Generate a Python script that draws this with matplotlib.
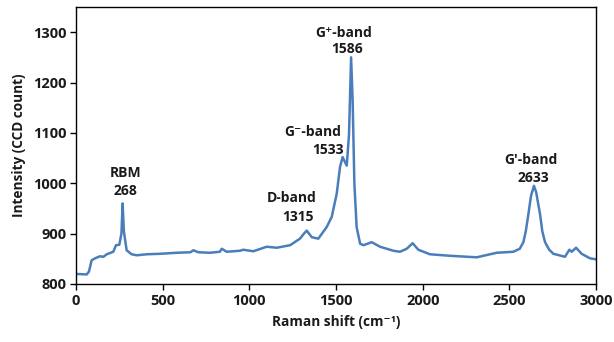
import numpy as np
import matplotlib
matplotlib.use("Agg")
import matplotlib.pyplot as plt

# Raman spectrum (shift in cm-1, intensity in CCD counts)
shift = [0, 62, 75, 90, 110, 138, 158, 177, 215, 231, 250, 262, 269, 276, 292,
         321, 350, 408, 485, 581, 660, 677, 706, 773, 830, 841, 869, 946, 965,
         1023, 1100, 1158, 1235, 1292, 1315, 1331, 1360, 1398, 1446, 1475, 1504, 1523,
         1538, 1562, 1575, 1587, 1596, 1606, 1619, 1639, 1658, 1706, 1754, 1831,
         1869, 1908, 1942, 1975, 2042, 2158, 2312, 2427, 2523, 2560, 2581, 2595,
         2610, 2625, 2642, 2655, 2665, 2677, 2690, 2706, 2730, 2754, 2821, 2846,
         2860, 2885, 2917, 2965, 3000]
intensity = [820, 819, 825, 847, 851, 855, 854, 859, 864, 877, 878, 900, 960, 905, 867,
             859, 857, 859, 860, 862, 863, 867, 863, 862, 864, 870, 864, 866, 868,
             865, 874, 872, 877, 890, 900, 906, 893, 890, 913, 933, 979, 1032,
             1052, 1035, 1097, 1250, 1163, 999, 913, 880, 877, 883, 874, 866,
             864, 870, 881, 868, 859, 856, 853, 862, 864, 870, 883, 905,
             939, 975, 995, 982, 962, 939, 905, 883, 868, 860, 854, 868,
             864, 872, 860, 851, 849]

# peak labels: (text, x, y)
labels = [("RBM", 283, 1021), ("268", 283, 985),
          ("D-band", 1246, 970), ("1315", 1281, 934),
          ("G\u207b-band", 1364, 1102), ("1533", 1455, 1066),
          ("G\u207a-band", 1546, 1299), ("1586", 1566, 1267),
          ("G\u2032-band", 2625, 1047), ("2633", 2637, 1011)]

fam = ["Open Sans", "DejaVu Sans"]

fig = plt.figure(figsize=(6.14, 3.42), dpi=100)
ax = fig.add_axes([0.1238, 0.1696, 0.8469, 0.81])

ax.plot(shift, intensity, color="#4a7ebb", linewidth=1.8)

for txt, x, y in labels:
    ax.text(x, y, txt, ha="center", va="center", fontsize=10,
            fontweight="bold", family=fam, color="#1a1a1a")

ax.set_xlim(0, 3000)
ax.set_ylim(800, 1350)
ax.set_xticks(np.arange(0, 3001, 500))
ax.set_yticks(np.arange(800, 1301, 100))
ax.tick_params(direction="out", length=4, width=1, labelsize=10.5, pad=3)
for lab in ax.get_xticklabels() + ax.get_yticklabels():
    lab.set_family(fam)
    lab.set_fontweight("bold")
    lab.set_color("#1a1a1a")
for sp in ax.spines.values():
    sp.set_linewidth(1.0)
    sp.set_color("black")

ax.set_xlabel("Raman shift (cm\u207b\u00b9)", fontsize=9.8, fontweight="bold",
              family=fam, labelpad=5, color="#1a1a1a")
ax.set_ylabel("Intensity (CCD count)", fontsize=9.8, fontweight="bold",
              family=fam, labelpad=5, color="#1a1a1a")

fig.savefig("out.png", dpi=100)
